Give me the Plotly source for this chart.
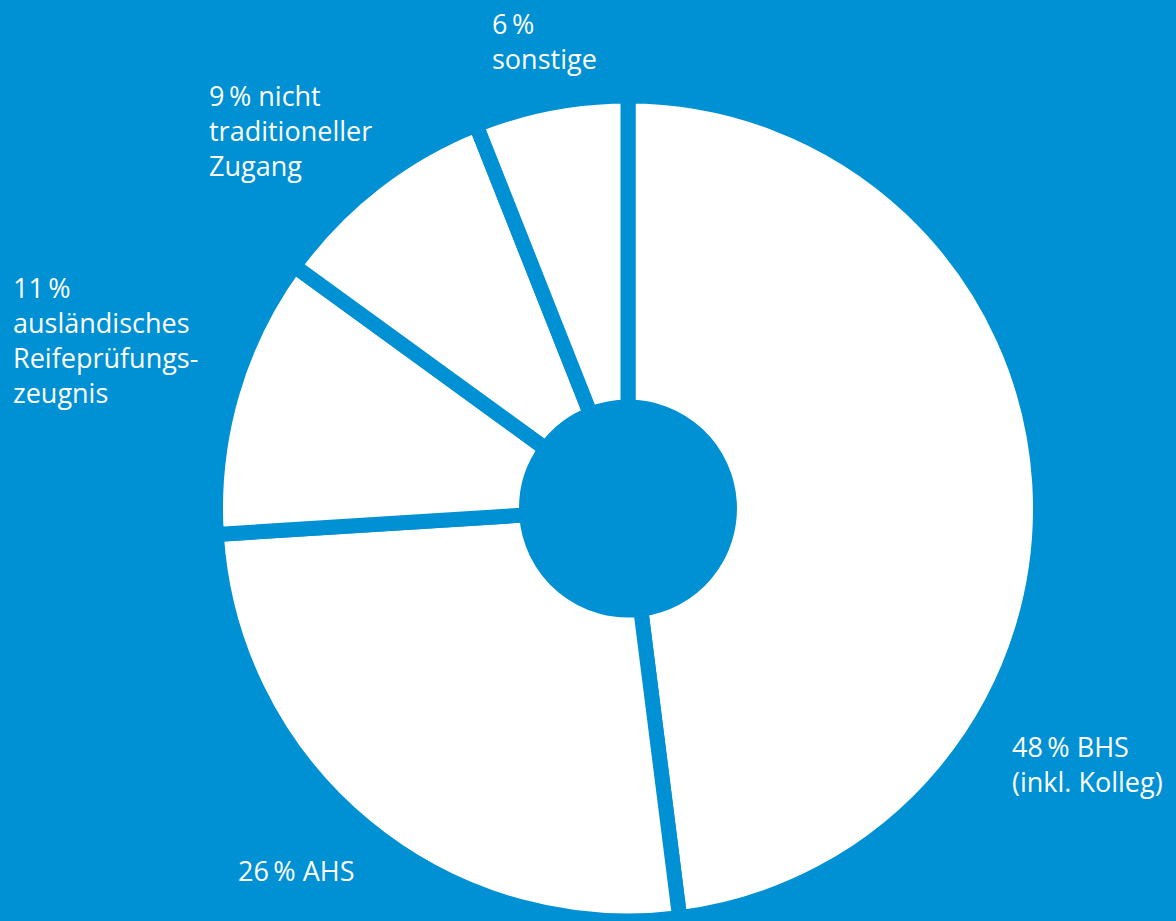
import plotly.graph_objects as go

# Shares of access routes, clockwise from 12 o'clock
categories = ["BHS (inkl. Kolleg)", "AHS", "ausländisches Reifeprüfungszeugnis",
              "nicht traditioneller Zugang", "sonstige"]
shares = [48, 26, 11, 9, 6]

# Label text for each slice (same order as above); thin space before "%"
label_texts = [
    "48\u2009% BHS<br>(inkl. Kolleg)",
    "26\u2009% AHS",
    "11\u2009%<br>ausländisches<br>Reifeprüfungs-<br>zeugnis",
    "9\u2009% nicht<br>traditioneller<br>Zugang",
    "6\u2009%<br>sonstige",
]

BLUE = "#0090d4"
W, H = 1176, 921

# Pie geometry in pixels
cx, cy = 628, 508.5
r_outer = 412.5

fig = go.Figure()
fig.add_trace(go.Pie(
    labels=categories,
    values=shares,
    sort=False,
    direction="clockwise",
    rotation=0,
    hole=0.246,
    textinfo="none",
    hoverinfo="none",
    showlegend=False,
    marker=dict(colors=["white"] * len(shares), line=dict(color=BLUE, width=15)),
    domain=dict(
        x=[(cx - r_outer) / W, (cx + r_outer) / W],
        y=[(H - cy - r_outer) / H, (H - cy + r_outer) / H],
    ),
))

# Label anchor points (left edge x, vertical middle y), in pixels
label_pos = [(1010, 764), (236, 870), (11, 340), (207, 130), (490, 41)]

for txt, (lx, ly) in zip(label_texts, label_pos):
    fig.add_annotation(
        text=txt, xref="paper", yref="paper",
        x=lx / W, y=1 - ly / H, xanchor="left", yanchor="middle",
        align="left", showarrow=False,
        font=dict(family="Open Sans", size=27, color="white"),
    )

fig.update_layout(
    width=W, height=H,
    margin=dict(l=0, r=0, t=0, b=0),
    paper_bgcolor=BLUE, plot_bgcolor=BLUE,
)

fig.write_html("out.html")
